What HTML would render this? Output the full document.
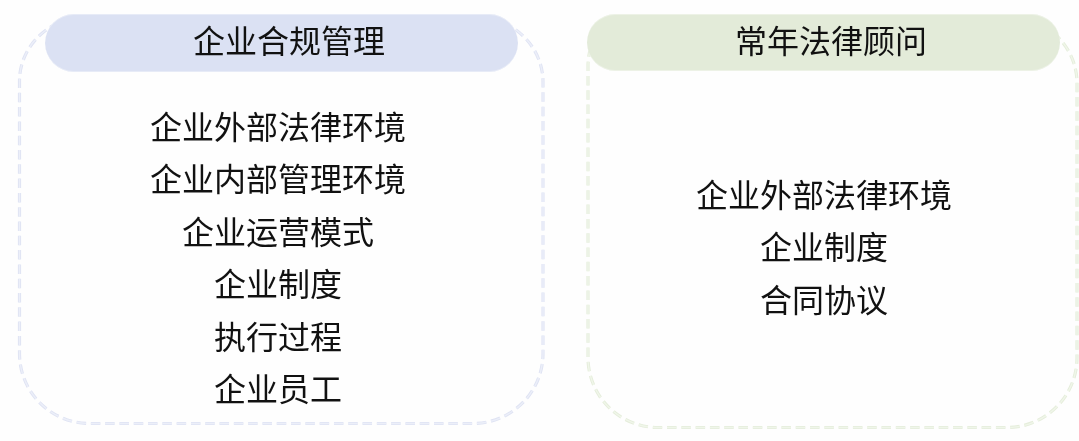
<!DOCTYPE html>
<html lang="zh-CN">
<head>
<meta charset="utf-8">
<style>
html,body{margin:0;padding:0;}
body{width:1079px;height:441px;background:#fefefe;position:relative;overflow:hidden;font-family:"Liberation Sans",sans-serif;color:#111;}
.pill{position:absolute;border-radius:29px;box-sizing:border-box;}
.txt{position:absolute;text-align:center;font-size:32px;white-space:nowrap;will-change:transform;}
.hdr{line-height:58px;height:58px;}
.list{line-height:52.4px;}
</style>
</head>
<body>
<svg width="1079" height="441" style="position:absolute;left:0;top:0">
  <g fill="none" stroke-dasharray="9.5 4.8">
    <path d="M89.5,16 H473 A70,66 0 0 1 543,82 V353.5 A70,70 0 0 1 473,423.5 H89.5 A70,70 0 0 1 19.5,353.5 V81 A70,65 0 0 1 89.5,16 Z" stroke="#dfe3f3" stroke-width="3.2"/>
    <path d="M89.5,16 H473 A70,66 0 0 1 543,82 V353.5 A70,70 0 0 1 473,423.5 H89.5 A70,70 0 0 1 19.5,353.5 V81 A70,65 0 0 1 89.5,16 Z" stroke="#eceff9" stroke-width="1.4"/>
    <path d="M628,16 H1007 A70,67 0 0 1 1077,83 V357.5 A70,70 0 0 1 1007,427.5 H658 A70,70 0 0 1 588,357.5 V66 A40,50 0 0 1 628,16 Z" stroke="#e5eddb" stroke-width="3.2"/>
    <path d="M628,16 H1007 A70,67 0 0 1 1077,83 V357.5 A70,70 0 0 1 1007,427.5 H658 A70,70 0 0 1 588,357.5 V66 A40,50 0 0 1 628,16 Z" stroke="#f0f6ea" stroke-width="1.4"/>
  </g>
</svg>
<div class="pill" style="left:44.5px;top:14.1px;width:473px;height:58.2px;background:#dbe1f3;box-shadow:inset 0 1px 0 rgba(255,255,255,0.35),inset 0 -1px 0 rgba(255,255,255,0.35);"></div>
<div class="pill" style="left:587.2px;top:14.1px;width:473px;height:57px;background:#e3ebd9;box-shadow:inset 0 1px 0 rgba(255,255,255,0.35),inset 0 -1px 0 rgba(255,255,255,0.35);"></div>
<div class="txt hdr" style="left:52px;top:13px;width:473px;">企业合规管理</div>
<div class="txt hdr" style="left:593.5px;top:13px;width:473px;">常年法律顾问</div>
<div class="txt list" style="left:42.5px;top:102px;width:470px;">企业外部法律环境<br>企业内部管理环境<br>企业运营模式<br>企业制度<br>执行过程<br>企业员工</div>
<div class="txt list" style="left:588.8px;top:170px;width:470px;">企业外部法律环境<br>企业制度<br>合同协议</div>
</body>
</html>
